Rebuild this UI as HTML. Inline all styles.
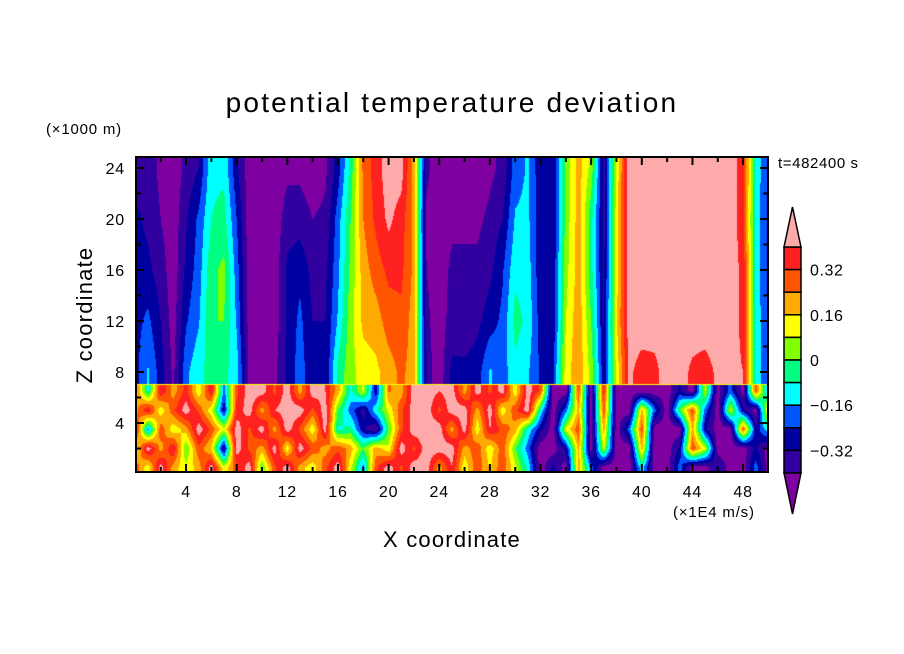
<!DOCTYPE html>
<html><head><meta charset="utf-8"><style>
body{margin:0;background:#fff;width:904px;height:654px;overflow:hidden;font-family:"Liberation Sans",sans-serif;position:relative}
#cv{position:absolute;left:136px;top:157px;display:block}
#chart{position:absolute;left:0;top:0}
</style></head><body>
<canvas id="cv" width="632" height="316"></canvas>
<svg id="chart" width="904" height="654" xmlns="http://www.w3.org/2000/svg">
<text x="452" y="112" text-anchor="middle" font-size="28" letter-spacing="2.2" fill="#000">potential temperature deviation</text>
<text x="46" y="134" font-size="15" letter-spacing="0.8" fill="#000">(×1000 m)</text>
<text x="778" y="168" font-size="15" letter-spacing="0.6" fill="#000">t=482400 s</text>
<text x="673" y="517" font-size="15" letter-spacing="0.8" fill="#000">(×1E4 m/s)</text>
<text x="452" y="547" text-anchor="middle" font-size="22" letter-spacing="1.2" fill="#000">X coordinate</text>
<text transform="translate(92,315) rotate(-90)" text-anchor="middle" font-size="22" letter-spacing="1.2" fill="#000">Z coordinate</text>
<g id="axes"></g>
<g id="cbar"></g>
</svg>
<script>
const colors=["#7f00a0","#3300a0","#0000a0","#0055ff","#00ffff","#00ff80","#80ff00","#ffff00","#ffaa00","#ff5500","#ff2020","#ffaaaa"];
const levelLabels=["0.32","0.16","0","−0.16","−0.32"];
const levelValues=[0.32,0.16,0,-0.16,-0.32];
const xTicks=[4,8,12,16,20,24,28,32,36,40,44,48];
const yTicks=[4,8,12,16,20,24];
const upperZ=[8,12,16,20,24];
const upperZ8=[-0.27,-0.15,-0.28,-0.42,-0.18,-0.1,-0.05,-0.06,-0.12,-0.42,-0.42,-0.42,-0.3,-0.2,-0.3,-0.32,-0.05,0.05,0.12,0.14,0.2,0.26,0.2,-0.36,-0.45,-0.3,-0.3,-0.28,-0.15,-0.2,-0.1,-0.15,-0.25,-0.25,0.12,0.22,0.05,-0.3,0.1,0.42,0.36,0.37,0.45,0.44,0.38,0.36,0.42,0.42,0.4,-0.1,-0.25];
const upperZ12=[-0.27,-0.22,-0.32,-0.44,-0.25,-0.17,0.0,0.0,-0.17,-0.44,-0.45,-0.45,-0.3,-0.22,-0.32,-0.32,-0.15,0.05,0.18,0.2,0.28,0.3,0.2,-0.38,-0.45,-0.36,-0.37,-0.34,-0.28,-0.22,-0.05,-0.1,-0.28,-0.3,0.08,0.22,0.0,-0.33,0.15,0.45,0.45,0.45,0.45,0.45,0.45,0.45,0.45,0.44,0.38,-0.1,-0.25];
const upperZ16=[-0.28,-0.3,-0.36,-0.45,-0.3,-0.2,-0.02,0.02,-0.2,-0.45,-0.45,-0.45,-0.3,-0.26,-0.35,-0.34,-0.18,0.02,0.2,0.28,0.34,0.34,0.22,-0.4,-0.45,-0.38,-0.38,-0.38,-0.34,-0.25,-0.1,-0.12,-0.3,-0.3,0.05,0.2,-0.05,-0.34,0.12,0.45,0.45,0.45,0.45,0.45,0.45,0.45,0.45,0.44,0.38,-0.12,-0.25];
const upperZ20=[-0.3,-0.34,-0.4,-0.45,-0.33,-0.22,-0.08,-0.05,-0.24,-0.45,-0.45,-0.45,-0.36,-0.36,-0.4,-0.38,-0.2,0.0,0.24,0.34,0.42,0.36,0.22,-0.42,-0.45,-0.42,-0.42,-0.42,-0.38,-0.32,-0.15,-0.14,-0.3,-0.32,0.03,0.2,-0.05,-0.35,0.12,0.45,0.45,0.45,0.45,0.45,0.45,0.45,0.45,0.44,0.36,-0.12,-0.25];
const upperZ24=[-0.36,-0.36,-0.42,-0.45,-0.38,-0.32,-0.1,-0.1,-0.3,-0.45,-0.45,-0.45,-0.42,-0.42,-0.45,-0.42,-0.28,-0.05,0.26,0.36,0.45,0.44,0.2,-0.38,-0.45,-0.45,-0.45,-0.45,-0.42,-0.38,-0.2,-0.15,-0.3,-0.32,0.02,0.2,0.05,-0.35,0.1,0.45,0.45,0.45,0.45,0.45,0.45,0.45,0.45,0.44,0.36,-0.1,-0.25];
const lowerZ=[0.5,2,3.5,5,6.5];
const lowerZ05=[0.3,0.1,0.45,0.2,0.1,0.2,0.45,0.1,0.3,0.45,0.0,0.3,0.45,0.2,0.1,0.3,0.45,0.1,-0.2,0.3,0.45,0.3,0.45,0.45,0.2,0.4,0.1,0.3,0.15,0.3,0.1,-0.1,-0.45,-0.3,-0.45,0.2,-0.2,-0.45,-0.45,-0.45,-0.1,-0.45,-0.45,-0.2,-0.45,-0.45,-0.3,-0.45,-0.45,-0.2,-0.45];
const lowerZ2=[0.1,0.45,0.2,0.4,0.0,0.3,0.15,-0.35,0.45,0.3,0.2,0.45,0.1,0.45,0.3,0.2,0.3,0.2,0.0,0.2,0.1,0.45,0.3,0.45,0.45,0.45,0.2,0.3,0.1,0.3,0.0,-0.2,-0.45,-0.45,-0.3,0.2,-0.45,0.1,-0.45,-0.45,0.2,-0.45,-0.45,-0.3,0.3,0.1,-0.45,-0.45,-0.45,-0.3,-0.45];
const lowerZ35=[0.4,-0.2,0.3,0.1,0.2,0.45,0.3,0.1,0.45,0.3,0.45,0.2,0.45,0.3,0.1,0.45,-0.1,-0.05,-0.3,-0.4,0.0,0.3,0.45,0.45,0.45,0.2,0.45,0.1,0.4,0.3,0.2,-0.1,-0.3,-0.45,0.1,0.3,-0.45,0.2,-0.45,-0.2,0.3,-0.45,-0.45,-0.45,0.2,-0.3,-0.45,-0.45,0.3,-0.3,-0.1];
const lowerZ5=[0.2,0.4,0.1,0.3,0.45,0.3,0.1,-0.3,0.35,0.45,0.2,0.4,0.45,0.45,0.3,0.45,0.0,-0.2,-0.35,-0.1,0.1,0.3,0.45,0.45,0.3,0.45,0.45,0.2,0.45,0.1,0.3,0.45,-0.1,-0.45,-0.2,0.2,-0.45,0.3,-0.45,-0.45,0.2,-0.2,-0.45,0.0,0.3,-0.2,-0.45,0.1,-0.3,-0.45,0.2];
const lowerZ65=[0.3,-0.1,0.4,0.2,0.35,0.1,0.4,-0.2,0.3,0.45,0.45,0.3,0.45,0.2,0.45,0.4,0.2,-0.1,0.1,-0.3,0.25,0.2,0.45,0.45,0.4,0.45,0.2,0.45,0.3,0.45,0.1,0.45,0.3,-0.45,-0.45,0.3,-0.45,0.35,-0.45,-0.45,-0.45,-0.45,-0.45,-0.3,-0.45,0.1,-0.45,-0.2,-0.45,0.3,-0.2];

const X0=135.4, XS=12.66, Z0=474, ZS=12.75;
const sx=v=>X0+XS*v, sz=v=>Z0-ZS*v;
const upperRows=[upperZ8,upperZ12,upperZ16,upperZ20,upperZ24];
const lowerRows=[lowerZ05,lowerZ2,lowerZ35,lowerZ5,lowerZ65];
function hexRgb(h){return [parseInt(h.substr(1,2),16),parseInt(h.substr(3,2),16),parseInt(h.substr(5,2),16)];}
const rgbs=colors.map(hexRgb);
function cls(v){let k=Math.floor((v+0.4)/0.08)+1;return Math.max(0,Math.min(11,k));}
function sample(rows,zs,x,z){
  const n=rows[0].length-1;const xi=Math.max(0,Math.min(n-1e-6,x));const i=Math.floor(xi),fx=xi-i;
  const zz=Math.max(zs[0],Math.min(zs[zs.length-1],z));let j=0;while(j<zs.length-2&&zz>zs[j+1])j++;
  const fz=(zz-zs[j])/(zs[j+1]-zs[j]);
  const a=rows[j][i]*(1-fx)+rows[j][i+1]*fx, b=rows[j+1][i]*(1-fx)+rows[j+1][i+1]*fx;
  return a*(1-fz)+b*fz;
}
const cv=document.getElementById('cv');
const ctx=cv.getContext('2d');const CW=632,CH=316;const img=ctx.createImageData(CW,CH);
for(let py=0;py<CH;py++){for(let px=0;px<CW;px++){
  const x=(136+px+0.5-X0)/XS, z=(Z0-(157+py+0.5))/ZS;
  const v=(z<7)?sample(lowerRows,lowerZ,x,z):sample(upperRows,upperZ,x,z);
  let c=rgbs[cls(v)];
  if(Math.abs(z-7)<0.045)c=rgbs[7];
  const o=(py*CW+px)*4;img.data[o]=c[0];img.data[o+1]=c[1];img.data[o+2]=c[2];img.data[o+3]=255;}}
ctx.putImageData(img,0,0);

const NS="http://www.w3.org/2000/svg";
function mk(tag,attrs,parent,text){const e=document.createElementNS(NS,tag);for(const k in attrs)e.setAttribute(k,attrs[k]);if(text!==undefined)e.textContent=text;parent.appendChild(e);return e;}
const ax=document.getElementById('axes');
const frame=mk('rect',{x:136,y:157,width:632,height:315,fill:'none',stroke:'#000','stroke-width':2},ax);


for(let t=2;t<50;t+=2){const x=sx(t),L=(t%4===0)?8:5;
  mk('line',{x1:x,y1:472,x2:x,y2:472-L,stroke:'#000','stroke-width':2},ax);
  mk('line',{x1:x,y1:157,x2:x,y2:157+L,stroke:'#000','stroke-width':2},ax);}
for(let t=2;t<25;t+=2){const y=sz(t),L=(t%4===0)?8:5;
  mk('line',{x1:136,y1:y,x2:136+L,y2:y,stroke:'#000','stroke-width':2},ax);
  mk('line',{x1:768,y1:y,x2:768-L,y2:y,stroke:'#000','stroke-width':2},ax);}
xTicks.forEach(t=>{const e=mk('text',{x:sx(t),y:497,'text-anchor':'middle','font-size':16,'letter-spacing':0.8},ax,String(t));
  
  });
yTicks.forEach(t=>{const e=mk('text',{x:125,y:sz(t)+6,'text-anchor':'end','font-size':16,'letter-spacing':0.8},ax,String(t));
  
  });

const cb=document.getElementById('cbar');
const cbx=784,cbw=17,cbTop=247,step=22.6;
for(let k=10;k>=1;k--){const y=cbTop+(10-k)*step;
  const r=mk('rect',{x:cbx,y:y,width:cbw,height:step,fill:colors[k],stroke:'#000','stroke-width':1.5},cb);
  
  }
const cbBot=cbTop+10*step;
const tu=mk('polygon',{points:`${cbx},${cbTop} ${cbx+cbw},${cbTop} ${cbx+cbw/2},207`,fill:colors[11],stroke:'#000','stroke-width':1.5},cb);


const td=mk('polygon',{points:`${cbx},${cbBot} ${cbx+cbw},${cbBot} ${cbx+cbw/2},514`,fill:colors[0],stroke:'#000','stroke-width':1.5},cb);


levelValues.forEach((v,i)=>{const y=cbTop+(0.4-v)/0.08*step;
  const e=mk('text',{x:810,y:y+6,'font-size':16,'letter-spacing':0.6},cb,levelLabels[i]);
  
  });
</script>
</body></html>
